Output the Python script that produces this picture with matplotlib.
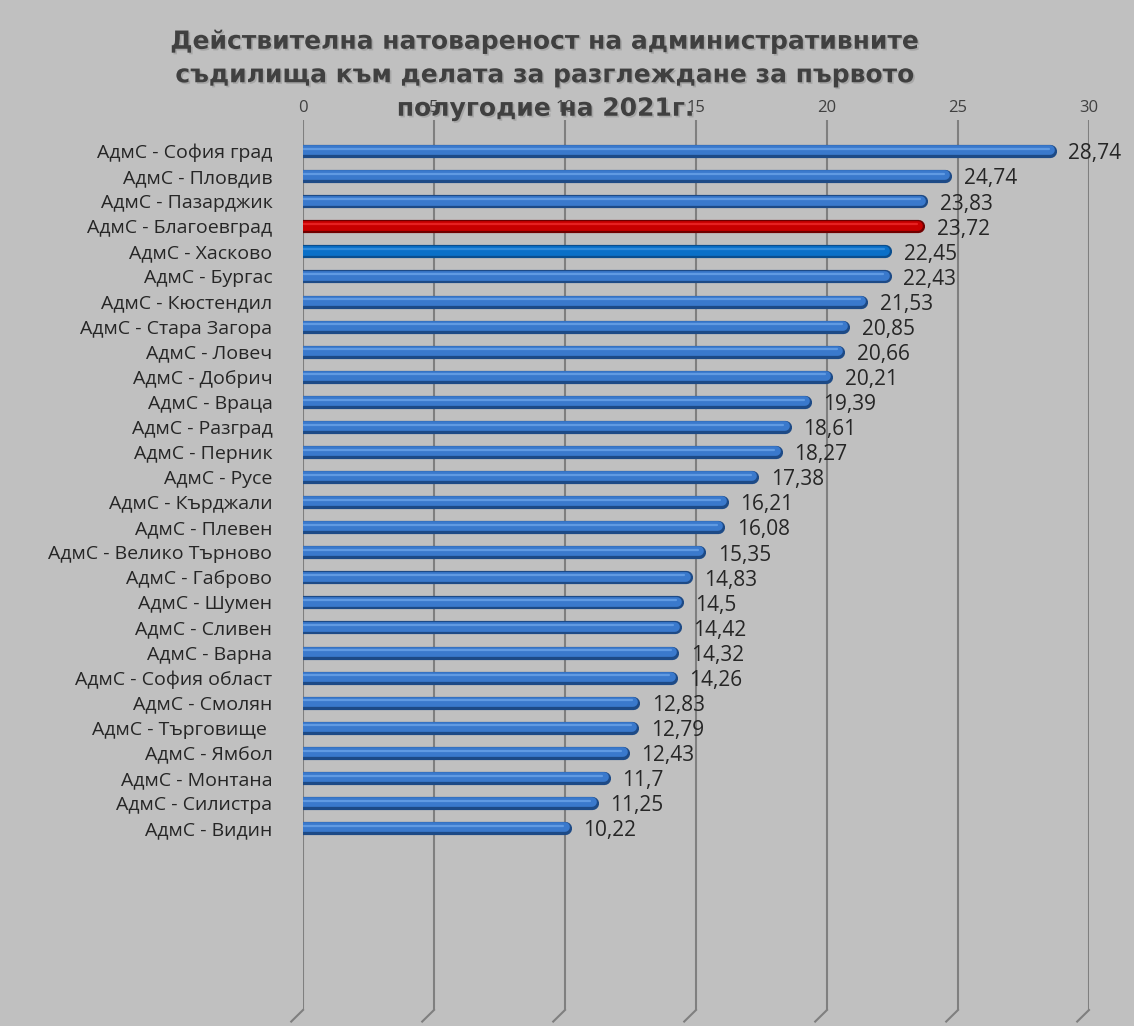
import matplotlib
matplotlib.use("Agg")
import matplotlib.pyplot as plt
import matplotlib.transforms as mtransforms
import matplotlib.patheffects as pe

plt.rcParams['font.family'] = ['Open Sans', 'DejaVu Sans']

courts = ['АдмС - София град', 'АдмС - Пловдив', 'АдмС - Пазарджик', 'АдмС - Благоевград',
          'АдмС - Хасково', 'АдмС - Бургас', 'АдмС - Кюстендил', 'АдмС - Стара Загора',
          'АдмС - Ловеч', 'АдмС - Добрич', 'АдмС - Враца', 'АдмС - Разград',
          'АдмС - Перник', 'АдмС - Русе', 'АдмС - Кърджали', 'АдмС - Плевен',
          'АдмС - Велико Търново', 'АдмС - Габрово', 'АдмС - Шумен', 'АдмС - Сливен',
          'АдмС - Варна', 'АдмС - София област', 'АдмС - Смолян', 'АдмС - Търговище ',
          'АдмС - Ямбол', 'АдмС - Монтана', 'АдмС - Силистра', 'АдмС - Видин']
load = [28.74, 24.74, 23.83, 23.72, 22.45, 22.43, 21.53, 20.85, 20.66, 20.21, 19.39,
        18.61, 18.27, 17.38, 16.21, 16.08, 15.35, 14.83, 14.5, 14.42, 14.32, 14.26,
        12.83, 12.79, 12.43, 11.7, 11.25, 10.22]
ticks = [0, 5, 10, 15, 20, 25, 30]

# dark, main, highlight
blue = ('#1d4a86', '#3a79cc', '#6aa3e8')
blue2 = ('#0a4e8e', '#0a70c8', '#3a92e0')
red = ('#700000', '#c80000', '#ee2a2a')
colors = [blue] * len(courts)
colors[3] = red
colors[4] = blue2

bg = '#c0c0c0'
fig = plt.figure(figsize=(11.34, 10.26), dpi=100, facecolor=bg)
ax = fig.add_axes([0.2672, 0.0156, 0.6931, 0.8674], facecolor=bg)

ax.set_xlim(0, 30)
ax.set_ylim(len(courts) - 1 + 7.26, -1.24)

# vertical gridlines with slanted foot (3D floor)
foot = mtransforms.blended_transform_factory(ax.transData, ax.transAxes)
for t in ticks:
    ax.axvline(t, color='#7f7f7f', lw=1.5, zorder=1)
    ax.plot([t, t - 0.45], [0, -0.013], color='#7f7f7f', lw=1.5,
            transform=foot, clip_on=False, zorder=1)

cap = 0.23
for i, (v, c) in enumerate(zip(load, colors)):
    ax.hlines(i, 0, v - cap, color=c[0], lw=9.5, capstyle='round', zorder=3)
    ax.hlines(i - 0.03, 0, v - cap, color=c[1], lw=7.0, capstyle='round', zorder=4)
    ax.hlines(i - 0.09, 0.05, v - cap - 0.05, color=c[2], lw=1.6, capstyle='round',
              zorder=5, alpha=0.8)
    ax.annotate(f'{v:g}'.replace('.', ','), (v, i), xytext=(9, -2),
                textcoords='offset points', va='center', ha='left',
                fontsize=15, color='#262626', zorder=6)

ax.set_yticks(range(len(courts)))
ax.set_yticklabels(courts, fontsize=14, color='#262626')
ax.tick_params(axis='y', length=0, pad=22)
ax.set_xticks(ticks)
ax.set_xticklabels([str(t) for t in ticks])
ax.xaxis.tick_top()
ax.tick_params(axis='x', length=0, labelsize=12, colors='#404040', pad=3)
for s in ax.spines.values():
    s.set_visible(False)

title = ('Действителна натовареност на административните\n'
         'съдилища към делата за разглеждане за първото\n'
         'полугодие на 2021г.')
fig.text(0.4815, 0.971, title, ha='center', va='top', fontsize=18, fontweight='bold',
         family='DejaVu Sans', color='#404040', linespacing=1.5,
         path_effects=[pe.withSimplePatchShadow(offset=(1.2, -1.2), shadow_rgbFace='#909090', alpha=0.5)])

fig.savefig('out.png', dpi=100, facecolor=bg)
